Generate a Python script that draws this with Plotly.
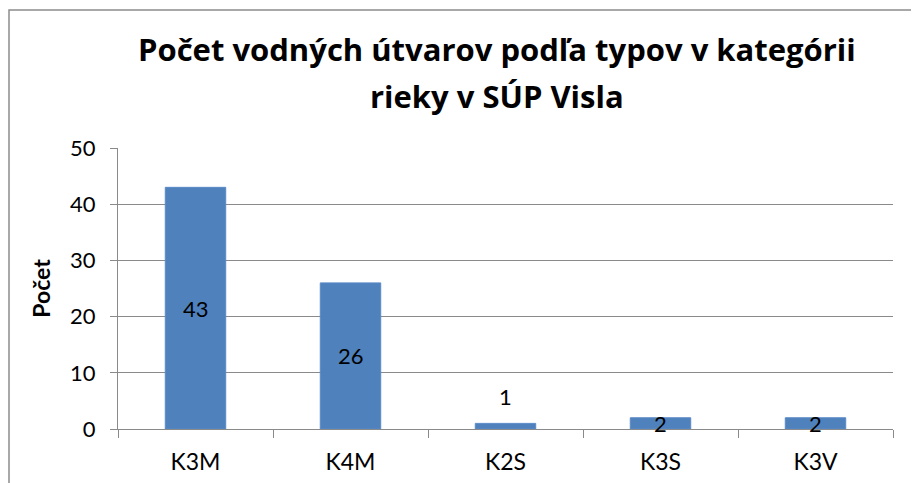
import plotly.graph_objects as go

categories = ["K3M", "K4M", "K2S", "K3S", "K3V"]
values = [43, 26, 1, 2, 2]
y_ticks = [0, 10, 20, 30, 40, 50]
title_lines = ["Počet vodných útvarov podľa typov v kategórii", "rieky v SÚP Visla"]
y_title = "Počet"

# the page body adds an 8px margin, so the figure is drawn 8px in from the corner
OFF = 8
W, H = 919 - OFF, 483 - OFF
L, R, T, B = 118 - OFF, 26, 148 - OFF, 54
pw, ph = W - L - R, H - T - B

def px_to_paper_x(px):
    return (px - OFF - L) / pw

def py_to_paper_y(py):
    return (H - B - (py - OFF)) / ph

FONT = "Lato"
TFONT = "Open Sans"
GRID = "#8a8a8a"

fig = go.Figure()
fig.add_trace(go.Bar(
    x=categories, y=values,
    marker=dict(color="#4F81BD", line=dict(color="#5a8ac6", width=1)),
    width=0.39, hoverinfo="x+y",
))

# data labels
for c, v in zip(categories, values):
    yl = v / 2 if v >= 2 else v + 4.7
    fig.add_annotation(x=c, y=yl, text=str(v), showarrow=False,
                       font=dict(family=FONT, size=22, color="black"),
                       xanchor="center", yanchor="middle")

# title (two lines)
for line, ypx in zip(title_lines, [49, 96]):
    fig.add_annotation(xref="paper", yref="paper", x=px_to_paper_x(496.5), y=py_to_paper_y(ypx),
                       text=line, showarrow=False, xanchor="center", yanchor="middle",
                       font=dict(family=TFONT, size=31, color="black", weight="bold"))

# chart border
fig.add_shape(type="rect", xref="paper", yref="paper",
              x0=px_to_paper_x(9), x1=px_to_paper_x(960),
              y0=py_to_paper_y(530), y1=py_to_paper_y(10),
              line=dict(color="#8c8c8c", width=1.5), fillcolor="rgba(0,0,0,0)", layer="below")

fig.update_layout(
    width=W, height=H,
    margin=dict(l=L, r=R, t=T, b=B, pad=0),
    paper_bgcolor="white", plot_bgcolor="white",
    showlegend=False,
    bargap=0.61,
)
fig.update_xaxes(
    type="category", showline=True, linecolor=GRID, linewidth=1.3,
    ticks="outside", tickson="boundaries", ticklen=8, tickcolor=GRID, tickwidth=1.3,
    ticklabelstandoff=12, automargin=False,
    tickfont=dict(family=FONT, size=23, color="black"), showgrid=False,
)
fig.update_yaxes(
    range=[0, 50], tickvals=y_ticks, showline=True, linecolor=GRID, linewidth=1.3,
    ticks="outside", ticklen=7, tickcolor=GRID, tickwidth=1.3,
    ticklabelstandoff=10, automargin=False,
    showgrid=True, gridcolor=GRID, gridwidth=1.3, zeroline=False,
    tickfont=dict(family=FONT, size=22, color="black"),
    title=dict(text=y_title, font=dict(family=FONT, size=23, color="black", weight="bold"), standoff=12),
)

fig.write_html("out.html")
